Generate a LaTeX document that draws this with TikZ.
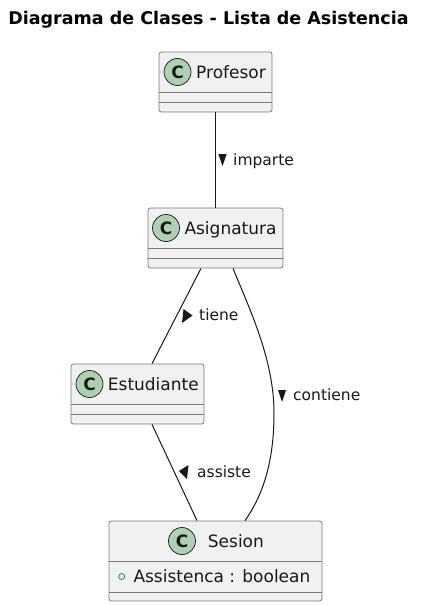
\documentclass[tikz,border=0pt]{standalone}
\usepackage{fontspec}
\setmainfont{DejaVu Sans}
\definecolor{boxfill}{HTML}{F1F1F1}
\definecolor{boxline}{HTML}{7A7A7A}
\definecolor{iconfill}{HTML}{ADD1B2}
\definecolor{ink}{HTML}{181818}
\definecolor{attrgreen}{HTML}{038048}

\begin{document}
\begin{tikzpicture}[x=1pt, y=-1pt,
  classbox/.style={draw=boxline, fill=boxfill, rounded corners=2.5pt, line width=0.8pt, inner sep=0},
  sep/.style={draw=boxline, line width=0.8pt},
  icon/.style={circle, draw=ink, fill=iconfill, line width=0.7pt, minimum size=27pt, inner sep=0, text=ink, font=\bfseries\fontsize{17}{17}\selectfont},
  cname/.style={anchor=west, inner sep=0, text height=12.4pt, text depth=0pt, text=ink, font=\fontsize{17}{20}\selectfont},
  rel/.style={draw=ink, line width=1pt},
  rlabel/.style={anchor=west, inner sep=0, text height=11.3pt, text depth=0pt, text=ink, font=\fontsize{15.5}{18}\selectfont}]
 \useasboundingbox (0,0) rectangle (427,605);
 \node (title) [font=\bfseries\fontsize{17.5}{20}\selectfont, text=black, inner sep=0] at (208.5,20) {Diagrama de Clases - Lista de Asistencia};

 % clases
 \node (prof) [classbox, minimum width=113pt, minimum height=60pt] at (215.5,82) {};
 \node (asig) [classbox, minimum width=135pt, minimum height=60pt] at (215.5,238) {};
 \node (estu) [classbox, minimum width=133pt, minimum height=60pt] at (137.5,394) {};
 \node (sesi) [classbox, minimum width=213pt, minimum height=80pt] at (215.5,561) {};
 \draw [sep] (prof.west |- 0,92) -- (prof.east |- 0,92);
 \draw [sep] (prof.west |- 0,102) -- (prof.east |- 0,102);
 \draw [sep] (asig.west |- 0,248) -- (asig.east |- 0,248);
 \draw [sep] (asig.west |- 0,258) -- (asig.east |- 0,258);
 \draw [sep] (estu.west |- 0,404) -- (estu.east |- 0,404);
 \draw [sep] (estu.west |- 0,414) -- (estu.east |- 0,414);
 \draw [sep] (sesi.west |- 0,561.5) -- (sesi.east |- 0,561.5);
 \draw [sep] (sesi.west |- 0,592.5) -- (sesi.east |- 0,592.5);

 \node (profC) [icon] at (177.5,72) {C};
 \node (profN) [cname] at (196,72) {Profesor};
 \node (asigC) [icon] at (166,228) {C};
 \node (asigN) [cname] at (184.3,228) {Asignatura};
 \node (estuC) [icon] at (89.5,384) {C};
 \node (estuN) [cname] at (107.7,384) {Estudiante};
 \node (sesiC) [icon] at (182,541) {C};
 \node (sesiN) [cname] at (207.7,541) {Sesion};
 \node (attr) [circle, draw=attrgreen, line width=0.7pt, minimum size=6pt, inner sep=0] at (121.7,576.5) {};
 \node (attrN) [cname] at (133.3,576.5) {Assistenca : boolean};

 % relaciones
 \draw [rel] (prof.south) -- (asig.north);
 \draw [rel] ([xshift=-14.5pt]asig.south) -- ([xshift=14.5pt]estu.north);
 \draw [rel] ([xshift=14.5pt]estu.south) -- ([xshift=-18.5pt]sesi.north);
 \draw [rel] ([xshift=17.5pt]asig.south) .. controls (250,310) and (274,360) .. (274,413)
   .. controls (274,462) and (263,495) .. ([xshift=29.5pt]sesi.north);

 \node (lImp) [rlabel] at (233,160) {imparte};
 \node (lTie) [rlabel] at (199,315) {tiene};
 \node (lCon) [rlabel] at (293,395) {contiene};
 \node (lAsi) [rlabel] at (197,472) {assiste};
 \fill [ink] (218.3,154) -- (226.7,154) -- (222.5,166) -- cycle;
 \fill [ink] (183.5,309) -- (192.5,315.5) -- (182,323) -- cycle;
 \fill [ink] (278,390) -- (286,390) -- (282,402) -- cycle;
 \fill [ink] (179,471) -- (188.5,465) -- (187,479) -- cycle;
\end{tikzpicture}
\end{document}
